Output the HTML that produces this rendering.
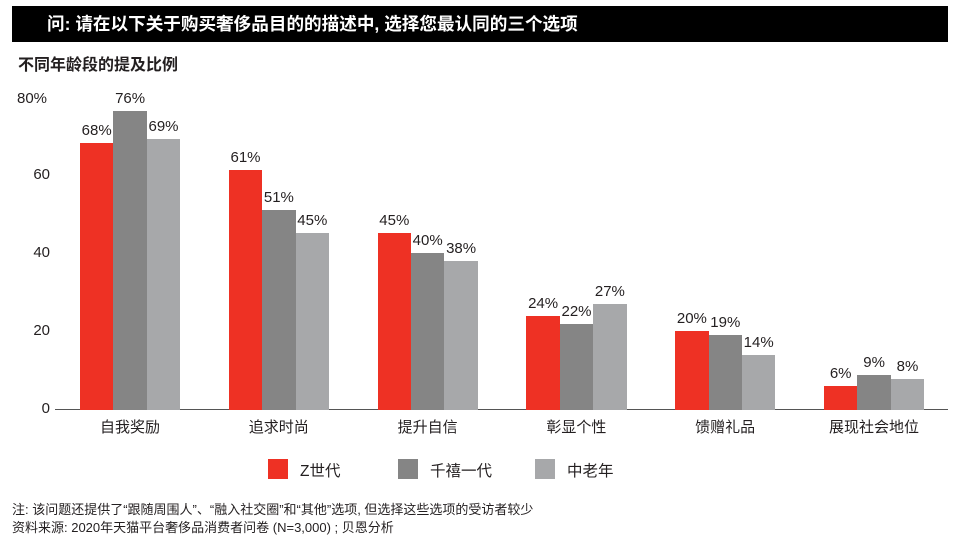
<!DOCTYPE html><html><head><meta charset="utf-8"><style>
body{margin:0;width:964px;height:543px;background:#fff;font-family:"Liberation Sans","Noto Sans CJK SC",sans-serif;color:#231f20;position:relative;overflow:hidden}
.a{position:absolute;white-space:nowrap}
.bar{position:absolute}
.r{background:#ee3124}.g{background:#858585}.l{background:#a7a8aa}
.v{position:absolute;font-size:15px;width:50px;text-align:center}
.yl{position:absolute;font-size:15px;text-align:right;width:40px;left:10px}
.cat{position:absolute;font-size:15px;width:140px;text-align:center;top:416px}
</style></head><body>
<div class="a" style="left:12px;top:6px;width:936px;height:36px;background:#000"></div>
<div class="a" style="left:47px;top:11px;color:#fff;font-size:17.6px;font-weight:bold">问: 请在以下关于购买奢侈品目的的描述中, 选择您最认同的三个选项</div>
<div class="a" style="left:18px;top:51px;font-size:16px;font-weight:bold">不同年龄段的提及比例</div>
<div class="yl" style="left:17px;text-align:left;top:90px">80%</div>
<div class="yl" style="top:166px">60</div>
<div class="yl" style="top:244px">40</div>
<div class="yl" style="top:322px">20</div>
<div class="yl" style="top:400px">0</div>
<div class="a" style="left:55px;top:409px;width:893px;height:1px;background:#555"></div>
<div id="c"></div>
<div class="a r" style="left:268px;top:459px;width:20px;height:20px"></div>
<div class="a" style="left:300px;top:459px;font-size:15.5px">Z世代</div>
<div class="a g" style="left:398px;top:459px;width:20px;height:20px"></div>
<div class="a" style="left:430px;top:459px;font-size:15.5px">千禧一代</div>
<div class="a l" style="left:535px;top:459px;width:20px;height:20px"></div>
<div class="a" style="left:567px;top:459px;font-size:15.5px">中老年</div>
<div class="a" style="left:12px;top:499px;font-size:13px">注: 该问题还提供了“跟随周围人”、“融入社交圈”和“其他”选项, 但选择这些选项的受访者较少</div>
<div class="a" style="left:12px;top:517px;font-size:13px">资料来源: 2020年天猫平台奢侈品消费者问卷 (N=3,000) ; 贝恩分析</div>
<script>
var d=[["自我奖励",68,76,69],["追求时尚",61,51,45],["提升自信",45,40,38],["彰显个性",24,22,27],["馈赠礼品",20,19,14],["展现社会地位",6,9,8]];
var h="",cls=["r","g","l"];
d.forEach(function(g,i){var x0=80+i*148.8;
for(var k=0;k<3;k++){var v=g[k+1],x=x0+k*33.4,t=410-v*3.93;
h+='<div class="bar '+cls[k]+'" style="left:'+x+'px;top:'+t+'px;width:33.4px;height:'+(410-t)+'px"></div>';
h+='<div class="v" style="left:'+(x-8.3)+'px;top:'+(t-21)+'px">'+v+'%</div>';}
h+='<div class="cat" style="left:'+(x0+50-70)+'px">'+g[0]+'</div>';});
document.getElementById("c").innerHTML=h;
</script>
</body></html>
